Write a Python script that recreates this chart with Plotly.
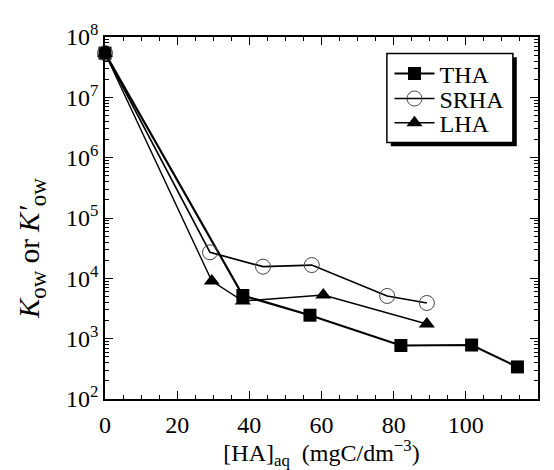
import plotly.graph_objects as go

tha_x = [0, 38.2, 56.8, 82.0, 101.6, 114.3]
tha_y = [5.4e7, 5.2e3, 2.45e3, 770, 785, 340]
srha_x = [0, 29.1, 43.8, 57.3, 78.2, 89.2]
srha_y = [5.4e7, 2.7e4, 1.56e4, 1.66e4, 5.1e3, 3.9e3]
lha_x = [0, 29.6, 38.2, 60.5, 89.2]
lha_y = [5.4e7, 9.0e3, 4.2e3, 5.3e3, 1.75e3]

ytick_vals = [1e2, 1e3, 1e4, 1e5, 1e6, 1e7, 1e8]
ytick_text = ["10<sup>2</sup>", "10<sup>3</sup>", "10<sup>4</sup>", "10<sup>5</sup>",
              "10<sup>6</sup>", "10<sup>7</sup>", "10<sup>8</sup>"]

font_family = "Liberation Serif"

fig = go.Figure()
fig.add_trace(go.Scatter(x=tha_x, y=tha_y, name="THA", mode="lines+markers",
                         line=dict(color="black", width=2.2),
                         marker=dict(symbol="square", size=13, color="black"),
                         cliponaxis=False, legend="legend"))
fig.add_trace(go.Scatter(x=srha_x, y=srha_y, name="SRHA", mode="lines+markers",
                         line=dict(color="black", width=1.7),
                         marker=dict(symbol="circle-open", size=15, color="#444",
                                     line=dict(width=1)),
                         cliponaxis=False, legend="legend2"))
fig.add_trace(go.Scatter(x=lha_x, y=lha_y, name="LHA", mode="lines+markers",
                         line=dict(color="black", width=1.4),
                         marker=dict(symbol="triangle-up", size=14, color="black"),
                         cliponaxis=False, legend="legend3"))

axis_common = dict(showline=True, linecolor="black", linewidth=1.5, mirror="allticks",
                   ticks="inside", ticklen=8, tickwidth=1.3, tickcolor="black",
                   showgrid=False, zeroline=False,
                   tickfont=dict(family=font_family, size=24, color="black"))

fig.update_xaxes(range=[0, 120], dtick=20, tick0=0, ticklabelstandoff=3,
                 minor=dict(ticks="inside", ticklen=4, dtick=5, tickcolor="black", tickwidth=1),
                 title=dict(text="[HA]<sub>aq</sub>  (mgC/dm<sup>−3</sup>)",
                            font=dict(family=font_family, size=24, color="black"), standoff=4),
                 **axis_common)
fig.update_yaxes(type="log", range=[2, 8], tickvals=ytick_vals, ticktext=ytick_text,
                 minor=dict(ticks="inside", ticklen=4, dtick="D1", tickcolor="black", tickwidth=1),
                 **axis_common)

# y-axis title (placed lower than centre, as in the reference)
sub_ow = '<sub><span style="font-size:23px">ow</span></sub>'
fig.add_annotation(text="<i>K</i>" + sub_ow + " or <i>K′</i>" + sub_ow,
                   xref="paper", yref="paper", x=-0.168, y=0.415,
                   xanchor="center", yanchor="middle", textangle=-90, showarrow=False,
                   font=dict(family=font_family, size=29, color="black"))

# legend frame with drop shadow
fig.add_shape(type="rect", xref="paper", yref="paper",
              x0=0.660, x1=0.951, y0=0.698, y1=0.944,
              fillcolor="black", line=dict(width=0), layer="above")
fig.add_shape(type="rect", xref="paper", yref="paper",
              x0=0.651, x1=0.942, y0=0.7086, y1=0.9545,
              fillcolor="white", line=dict(color="black", width=1.5), layer="above")

leg_common = dict(x=0.657, xanchor="left", yanchor="middle",
                  bgcolor="rgba(0,0,0,0)", borderwidth=0,
                  font=dict(family=font_family, size=24, color="black"), itemwidth=40)

fig.update_layout(
    width=546, height=462,
    margin=dict(l=97, r=16, t=18, b=70),
    paper_bgcolor="white", plot_bgcolor="white",
    font=dict(family=font_family, size=24, color="black"),
    legend=dict(y=0.898, **leg_common),
    legend2=dict(y=0.829, **leg_common),
    legend3=dict(y=0.762, **leg_common),
    showlegend=True,
)

fig.write_html("out.html")
